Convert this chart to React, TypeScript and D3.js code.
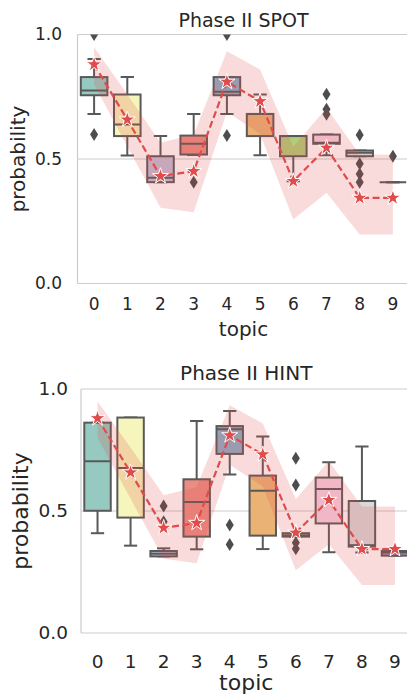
import React from "react";
import * as d3 from "d3";

const topics = ["0", "1", "2", "3", "4", "5", "6", "7", "8", "9"];

// expected probability per topic (star line) and its band
const expected = [0.88, 0.658, 0.431, 0.451, 0.81, 0.732, 0.411, 0.545, 0.344, 0.344];
const bandHigh = [0.949, 0.76, 0.565, 0.598, 0.933, 0.859, 0.549, 0.705, 0.518, 0.518];
const bandLow = [0.8, 0.55, 0.304, 0.286, 0.69, 0.6, 0.257, 0.364, 0.197, 0.197];

// Phase II SPOT box stats
const spotQ1 = [0.756, 0.592, 0.407, 0.518, 0.756, 0.592, 0.511, 0.561, 0.511, 0.407];
const spotMed = [0.775, 0.639, 0.425, 0.561, 0.77, 0.681, 0.592, 0.565, 0.525, 0.407];
const spotQ3 = [0.829, 0.759, 0.511, 0.594, 0.829, 0.681, 0.592, 0.598, 0.534, 0.407];
const spotLo = [0.681, 0.514, 0.407, 0.516, 0.681, 0.515, 0.411, 0.515, 0.511, 0.407];
const spotHi = [0.902, 0.829, 0.592, 0.681, 0.829, 0.759, 0.592, 0.598, 0.534, 0.407];
const spotOut = [
  [0.598, 1.0],
  [],
  [],
  [0.407],
  [0.594, 1.0],
  [],
  [],
  [0.76, 0.7, 0.68],
  [0.596, 0.481, 0.44, 0.407],
  [0.511],
];

// Phase II HINT box stats
const hintQ1 = [0.501, 0.473, 0.314, 0.395, 0.734, 0.399, 0.395, 0.449, 0.354, 0.317];
const hintMed = [0.704, 0.676, 0.325, 0.537, 0.835, 0.583, 0.4, 0.59, 0.36, 0.33];
const hintQ3 = [0.862, 0.883, 0.336, 0.63, 0.848, 0.645, 0.409, 0.637, 0.541, 0.336];
const hintLo = [0.409, 0.358, 0.314, 0.343, 0.65, 0.344, 0.395, 0.331, 0.33, 0.317];
const hintHi = [0.862, 0.883, 0.347, 0.869, 0.91, 0.805, 0.409, 0.7, 0.764, 0.336];
const hintOut = [
  [],
  [],
  [0.52, 0.456],
  [],
  [0.443, 0.363],
  [],
  [0.716, 0.607, 0.37, 0.345],
  [],
  [],
  [],
];

const yTicks = [0, 0.5, 1];

const palette = d3.schemeSet3.slice(0, 10).map((c) => {
  const h = d3.hsl(c);
  h.s *= 0.75;
  return h.formatHex();
});

const TEXT = "#262626";
const GRID = "#cccccc";
const EDGE = "#595959";
const RED = "#e04b4b";

type PanelProps = {
  id: string;
  title: string;
  q1: number[];
  med: number[];
  q3: number[];
  lo: number[];
  hi: number[];
  out: number[][];
  left: number;
  right: number;
  top: number;
  bottom: number;
  titleY: number;
  titleSize: number;
  tickSize: number;
  labelSize: number;
  yTickX: number;
  xTickY: number;
  xLabelY: number;
  yLabelX: number;
};

function Panel(p: PanelProps) {
  const x = d3.scaleBand().domain(topics).range([p.left, p.right]).padding(0);
  const y = d3.scaleLinear().domain([0, 1]).range([p.bottom, p.top]);
  const cx = (i: number) => (x(topics[i]) as number) + x.bandwidth() / 2;
  const bw = x.bandwidth() * 0.8;
  const mid = (p.left + p.right) / 2;

  const area = d3
    .area<number>()
    .x((_, i) => cx(i))
    .y0((_, i) => y(bandLow[i]))
    .y1((_, i) => y(bandHigh[i]));
  const line = d3
    .line<number>()
    .x((_, i) => cx(i))
    .y((d) => y(d));
  const star = d3.symbol().type(d3.symbolStar).size(80)();
  const diamond = `M0,-6.5L4,0L0,6.5L-4,0Z`;

  return (
    <g>
      <defs>
        <clipPath id={`clip-${p.id}`}>
          <rect x={p.left} y={p.top} width={p.right - p.left} height={p.bottom - p.top} />
        </clipPath>
      </defs>
      {yTicks.map((t) => (
        <line key={t} x1={p.left} x2={p.right} y1={y(t)} y2={y(t)} stroke={GRID} strokeWidth={1.2} />
      ))}
      <line x1={p.left} x2={p.left} y1={p.top} y2={p.bottom} stroke={GRID} strokeWidth={1.2} />
      <g clipPath={`url(#clip-${p.id})`}>
        {topics.map((t, i) => {
          const c = cx(i);
          return (
            <g key={t}>
              <line x1={c} x2={c} y1={y(p.q3[i])} y2={y(p.hi[i])} stroke={EDGE} strokeWidth={2} />
              <line x1={c} x2={c} y1={y(p.q1[i])} y2={y(p.lo[i])} stroke={EDGE} strokeWidth={2} />
              <line x1={c - bw / 4} x2={c + bw / 4} y1={y(p.hi[i])} y2={y(p.hi[i])} stroke={EDGE} strokeWidth={2} />
              <line x1={c - bw / 4} x2={c + bw / 4} y1={y(p.lo[i])} y2={y(p.lo[i])} stroke={EDGE} strokeWidth={2} />
              <rect
                x={c - bw / 2}
                y={y(p.q3[i])}
                width={bw}
                height={Math.max(0, y(p.q1[i]) - y(p.q3[i]))}
                fill={palette[i]}
                stroke={EDGE}
                strokeWidth={2}
              />
              <line x1={c - bw / 2} x2={c + bw / 2} y1={y(p.med[i])} y2={y(p.med[i])} stroke={EDGE} strokeWidth={2} />
              {p.out[i].map((v, k) => (
                <path key={k} d={diamond} transform={`translate(${c},${y(v)})`} fill="#4d4d4d" />
              ))}
            </g>
          );
        })}
        <path d={area(expected) as string} fill={RED} fillOpacity={0.2} />
        <path d={line(expected) as string} fill="none" stroke={RED} strokeWidth={2.2} strokeDasharray="7,3.5" />
        {expected.map((v, i) => (
          <path key={i} d={star as string} transform={`translate(${cx(i)},${y(v)})`} fill={RED} stroke="#fff" strokeWidth={1} />
        ))}
      </g>
      <text x={mid} y={p.titleY} textAnchor="middle" fontSize={p.titleSize} fill={TEXT}>
        {p.title}
      </text>
      {yTicks.map((t) => (
        <text key={t} x={p.yTickX} y={y(t)} dy="0.35em" textAnchor="end" fontSize={p.tickSize} fill={TEXT}>
          {d3.format(".1f")(t)}
        </text>
      ))}
      {topics.map((t, i) => (
        <text key={t} x={cx(i)} y={p.xTickY} textAnchor="middle" fontSize={p.tickSize} fill={TEXT}>
          {t}
        </text>
      ))}
      <text x={mid} y={p.xLabelY} textAnchor="middle" fontSize={p.labelSize} fill={TEXT}>
        topic
      </text>
      <text
        transform={`translate(${p.yLabelX},${(p.top + p.bottom) / 2}) rotate(-90)`}
        textAnchor="middle"
        fontSize={p.labelSize}
        fill={TEXT}
      >
        probability
      </text>
    </g>
  );
}

export default function App() {
  return (
    <svg
      width={407}
      height={694}
      style={{ position: "absolute", left: 0, top: 0, fontFamily: "DejaVu Sans, sans-serif", background: "#fff" }}
    >
      <Panel
        id="spot"
        title="Phase II SPOT"
        q1={spotQ1}
        med={spotMed}
        q3={spotQ3}
        lo={spotLo}
        hi={spotHi}
        out={spotOut}
        left={77.5}
        right={409.5}
        top={34.5}
        bottom={283.5}
        titleY={27}
        titleSize={19}
        tickSize={17}
        labelSize={20}
        yTickX={62}
        xTickY={310}
        xLabelY={336}
        yLabelX={25}
      />
      <Panel
        id="hint"
        title="Phase II HINT"
        q1={hintQ1}
        med={hintMed}
        q3={hintQ3}
        lo={hintLo}
        hi={hintHi}
        out={hintOut}
        left={81}
        right={411.5}
        top={389}
        bottom={633}
        titleY={380}
        titleSize={20}
        tickSize={18.5}
        labelSize={22}
        yTickX={68}
        xTickY={668}
        xLabelY={690}
        yLabelX={28}
      />
    </svg>
  );
}
